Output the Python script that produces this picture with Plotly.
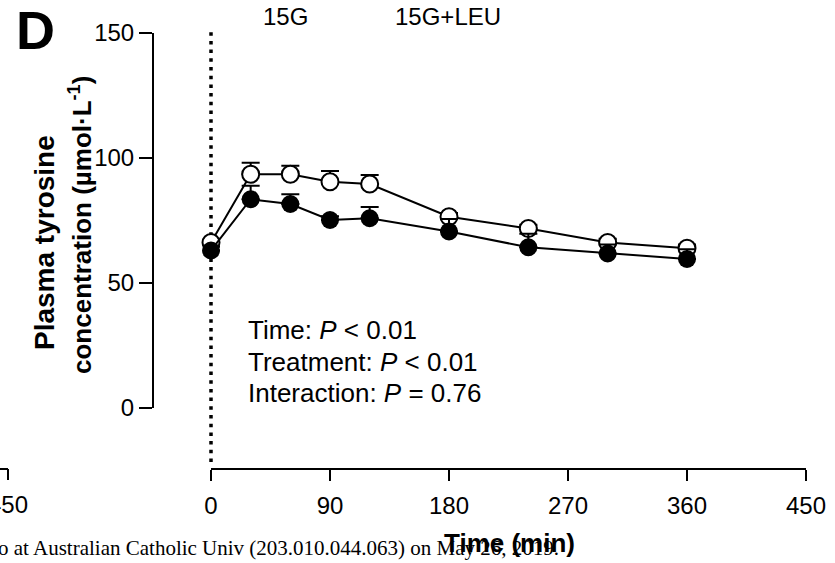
import plotly.graph_objects as go

W, H = 835, 563

# ---- data ----
times = [0, 30, 60, 90, 120, 180, 240, 300, 360]
g15_mean = [66.2, 93.5, 93.5, 90.5, 89.6, 76.5, 71.8, 66.2, 63.9]
g15_sem = [1.5, 4.6, 3.4, 4.3, 3.6, 1.5, 1.5, 1.5, 1.5]
leu_mean = [63.0, 83.5, 81.6, 75.2, 75.9, 70.6, 64.3, 61.8, 59.6]
leu_sem = [1.5, 5.4, 3.9, 1.5, 4.5, 5.0, 5.4, 3.6, 3.9]
x_ticks = [0, 90, 180, 270, 360, 450]
y_ticks = [0, 50, 100, 150]
series_names = ["15G", "15G+LEU"]

FONT = "Liberation Sans, Arial, sans-serif"


def px_x(p):
    return p / W


def px_y(p):
    return 1 - p / H


X0_PX = 211  # pixel where time 0 sits (left end of the x axis domain)

fig = go.Figure()

fig.add_trace(go.Scatter(
    x=times, y=g15_mean, mode="lines+markers", name=series_names[0],
    line=dict(color="black", width=2),
    marker=dict(symbol="circle", size=17, color="white",
                line=dict(color="black", width=2)),
    error_y=dict(type="data", array=g15_sem, arrayminus=[0] * len(times),
                 symmetric=False, color="black", thickness=2, width=9),
    cliponaxis=False, showlegend=False,
))
fig.add_trace(go.Scatter(
    x=times, y=leu_mean, mode="lines+markers", name=series_names[1],
    line=dict(color="black", width=2),
    marker=dict(symbol="circle", size=18, color="black",
                line=dict(color="black", width=0)),
    error_y=dict(type="data", array=leu_sem, arrayminus=[0] * len(times),
                 symmetric=False, color="black", thickness=2, width=9),
    cliponaxis=False, showlegend=False,
))

fig.update_layout(
    width=W, height=H,
    margin=dict(l=0, r=0, t=0, b=0),
    paper_bgcolor="white", plot_bgcolor="white",
    font=dict(family=FONT, color="black", size=24),
    xaxis=dict(
        domain=[px_x(X0_PX), px_x(806)], range=[0, 450],
        anchor="free", position=px_y(469),
        tickvals=x_ticks, ticktext=[str(v) for v in x_ticks],
        ticks="outside", ticklen=11, tickwidth=2, tickcolor="black",
        ticklabelstandoff=4,
        showline=True, linewidth=2, linecolor="black",
        showgrid=False, zeroline=False, automargin=False,
        tickfont=dict(size=24, family=FONT, color="black"),
    ),
    yaxis=dict(
        domain=[px_y(408), px_y(33)], range=[0, 150],
        anchor="free", position=px_x(153),
        tickvals=y_ticks, ticktext=[str(v) for v in y_ticks],
        ticks="outside", ticklen=13, tickwidth=2, tickcolor="black",
        showline=True, linewidth=2, linecolor="black",
        showgrid=False, zeroline=False, automargin=False,
        tickfont=dict(size=24, family=FONT, color="black"),
    ),
)

# dotted vertical line at time 0 (paper coords so it is not clipped)
fig.add_shape(type="line", xref="paper", yref="paper",
              x0=px_x(X0_PX), x1=px_x(X0_PX),
              y0=px_y(462), y1=px_y(32), layer="below",
              line=dict(color="black", width=3.5, dash="3.5px,5.2px"))

# fragment of neighbouring panel's x axis at left edge
fig.add_shape(type="line", xref="paper", yref="paper",
              x0=px_x(-2), x1=px_x(8), y0=px_y(469), y1=px_y(469),
              line=dict(color="black", width=2))
fig.add_shape(type="line", xref="paper", yref="paper",
              x0=px_x(8), x1=px_x(8), y0=px_y(469), y1=px_y(480),
              line=dict(color="black", width=2))


def ann(text, x, y, size, xanchor="center", yanchor="middle", angle=0,
        family=FONT):
    fig.add_annotation(text=text, xref="paper", yref="paper",
                       x=px_x(x), y=px_y(y), xanchor=xanchor, yanchor=yanchor,
                       showarrow=False, textangle=angle,
                       font=dict(size=size, family=family, color="black"))


ann("450", 8, 505, 24)
ann("<b>D</b>", 35, 30, 54)
ann(series_names[0], 285, 17, 24)
ann(series_names[1], 448, 17, 24)
ann("<b>Plasma tyrosine</b>", 44, 243, 28, angle=-90)
ann("<b>concentration (µmol·L<sup>-1</sup>)</b>", 80, 225, 26, angle=-90)
ann("<b>Time (min)</b>", 509, 543, 26)
ann("Time: <i>P</i> < 0.01", 246, 330, 26, xanchor="left")
ann("Treatment: <i>P</i> < 0.01", 246, 361.5, 26, xanchor="left")
ann("Interaction: <i>P</i> = 0.76", 246, 392.7, 26, xanchor="left")
ann("o at Australian Catholic Univ (203.010.044.063) on May 26, 2019.",
    561, 548, 21, xanchor="right",
    family="Liberation Serif, Times New Roman, serif")

fig.write_html("out.html")
